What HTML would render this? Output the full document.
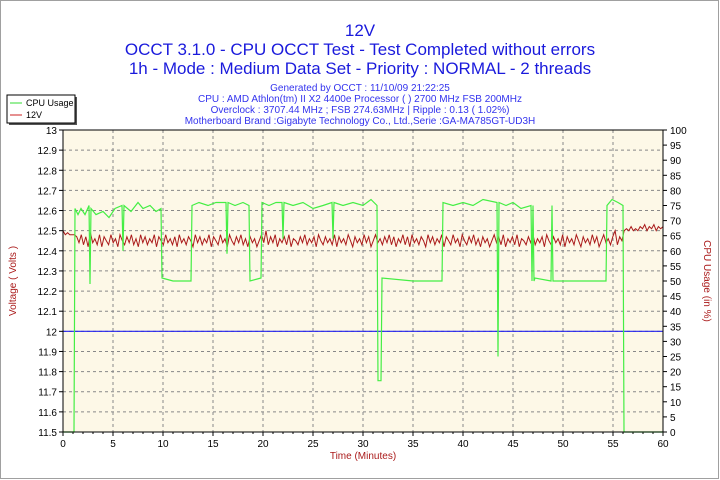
<!DOCTYPE html>
<html><head><meta charset="utf-8"><style>
body{margin:0;background:#fff;}
#c{position:relative;width:720px;height:480px;overflow:hidden;background:#fff;font-family:"Liberation Sans",sans-serif;}
</style></head><body>
<div id="c">
<svg id="s" width="720" height="480" xmlns="http://www.w3.org/2000/svg"></svg>
</div>
<script>
const xTicks=[0,5,10,15,20,25,30,35,40,45,50,55,60];
const vTicks=[11.5,11.6,11.7,11.8,11.9,12,12.1,12.2,12.3,12.4,12.5,12.6,12.7,12.8,12.9,13];
const cTicks=[0,5,10,15,20,25,30,35,40,45,50,55,60,65,70,75,80,85,90,95,100];
const cpuT=[0,1.1,1.2,1.5,1.8,2.2,2.6,2.7,2.8,3.3,4,4.6,5.2,5.9,6.0,6.1,6.8,7.5,8,8.7,9.3,9.8,9.9,11,12.8,12.9,13.6,14.5,15.3,16.3,16.4,16.5,17.2,18.0,18.6,18.7,19.8,19.9,20.6,21.3,21.9,22.0,22.1,23,24,25,26,26.9,27.0,27.1,28,29,30,30.8,31.4,31.5,31.8,31.9,35,37.9,38.0,39,40,41,42,43.4,43.5,43.6,44.3,45,45.8,46.8,46.9,47.0,47.1,47.2,48.8,48.9,49.0,52,54.3,54.4,54.9,55.5,56.0,56.1,60];
const cpuV=[0,0,74,72,74,72,75,49,74,72,73,71,74,75,60,75,73,76,74,75,73,74,51,50,50,75,76,75,76,76,59,76,75,76,75,50,51,76,75,76,76,64,76,75,76,74,75,76,64,76,75,76,75,77,75,17,17,51,50,50,76,75,76,75,77,76,25,76,75,76,74,75,50,75,50,51,50,75,50,50,50,75,77,76,75,0,0];
const v12=[12.50,12.48,12.49,12.48,12.48,12.48,12.47,12.44,12.48,12.43,12.47,12.42,12.49,12.44,12.46,12.43,12.48,12.42,12.47,12.45,12.43,12.48,12.44,12.46,12.42,12.48,12.45,12.43,12.47,12.44,12.48,12.43,12.46,12.42,12.48,12.44,12.47,12.43,12.46,12.44,12.48,12.42,12.47,12.45,12.43,12.48,12.44,12.46,12.43,12.47,12.42,12.48,12.44,12.46,12.43,12.47,12.45,12.42,12.48,12.44,12.47,12.43,12.46,12.44,12.48,12.42,12.47,12.45,12.43,12.48,12.44,12.46,12.42,12.48,12.45,12.43,12.47,12.44,12.48,12.43,12.46,12.42,12.47,12.44,12.46,12.42,12.45,12.48,12.44,12.50,12.43,12.47,12.44,12.48,12.42,12.46,12.44,12.47,12.43,12.48,12.42,12.46,12.45,12.43,12.47,12.44,12.48,12.43,12.46,12.44,12.47,12.42,12.48,12.45,12.43,12.47,12.44,12.46,12.43,12.48,12.42,12.47,12.44,12.46,12.43,12.48,12.45,12.42,12.47,12.44,12.46,12.43,12.48,12.44,12.47,12.42,12.45,12.48,12.44,12.46,12.43,12.47,12.44,12.48,12.43,12.47,12.42,12.46,12.44,12.48,12.43,12.47,12.42,12.48,12.44,12.46,12.43,12.47,12.45,12.42,12.48,12.44,12.47,12.43,12.46,12.44,12.48,12.42,12.47,12.45,12.43,12.48,12.44,12.46,12.42,12.48,12.45,12.43,12.47,12.44,12.48,12.43,12.46,12.42,12.47,12.44,12.46,12.42,12.45,12.48,12.44,12.47,12.43,12.48,12.42,12.46,12.44,12.47,12.43,12.48,12.42,12.46,12.45,12.43,12.47,12.44,12.48,12.43,12.46,12.44,12.47,12.42,12.48,12.45,12.43,12.47,12.44,12.46,12.43,12.48,12.42,12.47,12.44,12.46,12.43,12.48,12.45,12.42,12.47,12.44,12.46,12.43,12.48,12.44,12.47,12.42,12.45,12.48,12.44,12.46,12.43,12.47,12.50,12.43,12.47,12.45,12.50,12.51,12.50,12.52,12.50,12.51,12.50,12.52,12.51,12.53,12.50,12.52,12.51,12.53,12.50,12.52,12.51,12.52];
const refV=12.0;
const X0=63,X1=663,Y0=432,Y1=130;
const sx=t=>X0+(X1-X0)*t/60;
const sv=v=>Y0-(Y0-Y1)*(v-11.5)/1.5;
const sc=c=>Y0-(Y0-Y1)*c/100;
const s=document.getElementById('s');
const NS='http://www.w3.org/2000/svg';
function mk(tag,attrs,parent){const e=document.createElementNS(NS,tag);for(const k in attrs)e.setAttribute(k,attrs[k]);(parent||s).appendChild(e);return e;}
function txt(x,y,str,size,fill,anchor){const e=mk('text',{x:x,y:y,'font-size':size,fill:fill,'text-anchor':anchor||'middle','font-family':'Liberation Sans, sans-serif'});e.textContent=str;return e;}
let e;
e=mk('rect',{x:0.5,y:0.5,width:718,height:478,fill:'#fff',stroke:'#a0a0a0'});

e=txt(360,36,'12V',17,'#1a1adc');
e=txt(360,55,'OCCT 3.1.0 - CPU OCCT Test - Test Completed without errors',17,'#1a1adc');
e=txt(360,74,'1h - Mode : Medium Data Set - Priority : NORMAL - 2 threads',17,'#1a1adc');
const info=['Generated by OCCT : 11/10/09 21:22:25','CPU : AMD Athlon(tm) II X2 4400e Processor (  ) 2700 MHz FSB 200MHz','Overclock : 3707.44 MHz ; FSB 274.63MHz | Ripple : 0.13 ( 1.02%)','Motherboard Brand :Gigabyte Technology Co., Ltd.,Serie :GA-MA785GT-UD3H'];
info.forEach((l,i)=>{e=txt(360,91+i*11,l,10,'#3333ee');});
e=mk('rect',{x:9,y:97,width:68,height:28,fill:'#555'});
e=mk('rect',{x:7,y:95,width:68,height:28,fill:'#fff',stroke:'#000'});
e=mk('line',{x1:10,y1:103,x2:22,y2:103,stroke:'#33dd33'});
e=txt(26,106,'CPU Usage',9,'#000','start');
e=mk('line',{x1:10,y1:115,x2:22,y2:115,stroke:'#cc2222'});
e=txt(26,118,'12V',9,'#000','start');
e=mk('rect',{x:X0,y:Y1,width:X1-X0,height:Y0-Y1,fill:'#fdf8e7'});
vTicks.forEach(v=>{const y=sv(v);
 if(v>11.5&&v<13){e=mk('line',{x1:X0,y1:y,x2:X1,y2:y,stroke:'#888','stroke-dasharray':'3,3'});}
 e=mk('line',{x1:X0-4,y1:y,x2:X0,y2:y,stroke:'#000'});
 e=txt(X0-6,y+4,String(v),10,'#000','end');});
cTicks.forEach(c=>{const y=sc(c);
 e=mk('line',{x1:X1,y1:y,x2:X1+4,y2:y,stroke:'#000'});
 e=txt(X1+7,y+4,String(c),10,'#000','start');});
xTicks.forEach(t=>{const x=sx(t);
 if(t>0&&t<60){e=mk('line',{x1:x,y1:Y1,x2:x,y2:Y0,stroke:'#888','stroke-dasharray':'3,3'});}
 e=mk('line',{x1:x,y1:Y0,x2:x,y2:Y0+4,stroke:'#000'});
 e=txt(x,Y0+15,String(t),10,'#000');});
for(let t=0;t<=60;t++){e=mk('line',{x1:sx(t),y1:Y0,x2:sx(t),y2:Y0+2,stroke:'#000'});}
e=mk('line',{x1:X0,y1:sv(refV),x2:X1,y2:sv(refV),stroke:'#2222ee','stroke-width':1.2});
let d='';v12.forEach((v,i)=>{const t=i*60/(v12.length-1);d+=(i?'L':'M')+sx(t).toFixed(1)+','+sv(v).toFixed(1);});
e=mk('path',{d:d,fill:'none',stroke:'#aa1a1a','stroke-width':1});
d='';cpuT.forEach((t,i)=>{d+=(i?'L':'M')+sx(t).toFixed(1)+','+sc(cpuV[i]).toFixed(1);});
e=mk('path',{d:d,fill:'none',stroke:'#44ee44','stroke-width':1.2});
e=mk('line',{x1:X0,y1:Y1,x2:X0,y2:Y0,stroke:'#000'});
e=mk('line',{x1:X1,y1:Y1,x2:X1,y2:Y0,stroke:'#000'});
e=mk('line',{x1:X0,y1:Y0,x2:X1,y2:Y0,stroke:'#000'});
e=mk('line',{x1:X0,y1:Y1,x2:X1,y2:Y1,stroke:'#000'});
e=txt(363,459,'Time (Minutes)',10,'#aa1a1a');
e=txt(0,0,'Voltage ( Volts )',10,'#aa1a1a');e.setAttribute('transform','translate(16,281) rotate(-90)');
e=txt(0,0,'CPU Usage (in %)',10,'#aa1a1a');e.setAttribute('transform','translate(704,281) rotate(90)');
</script>
</body></html>
